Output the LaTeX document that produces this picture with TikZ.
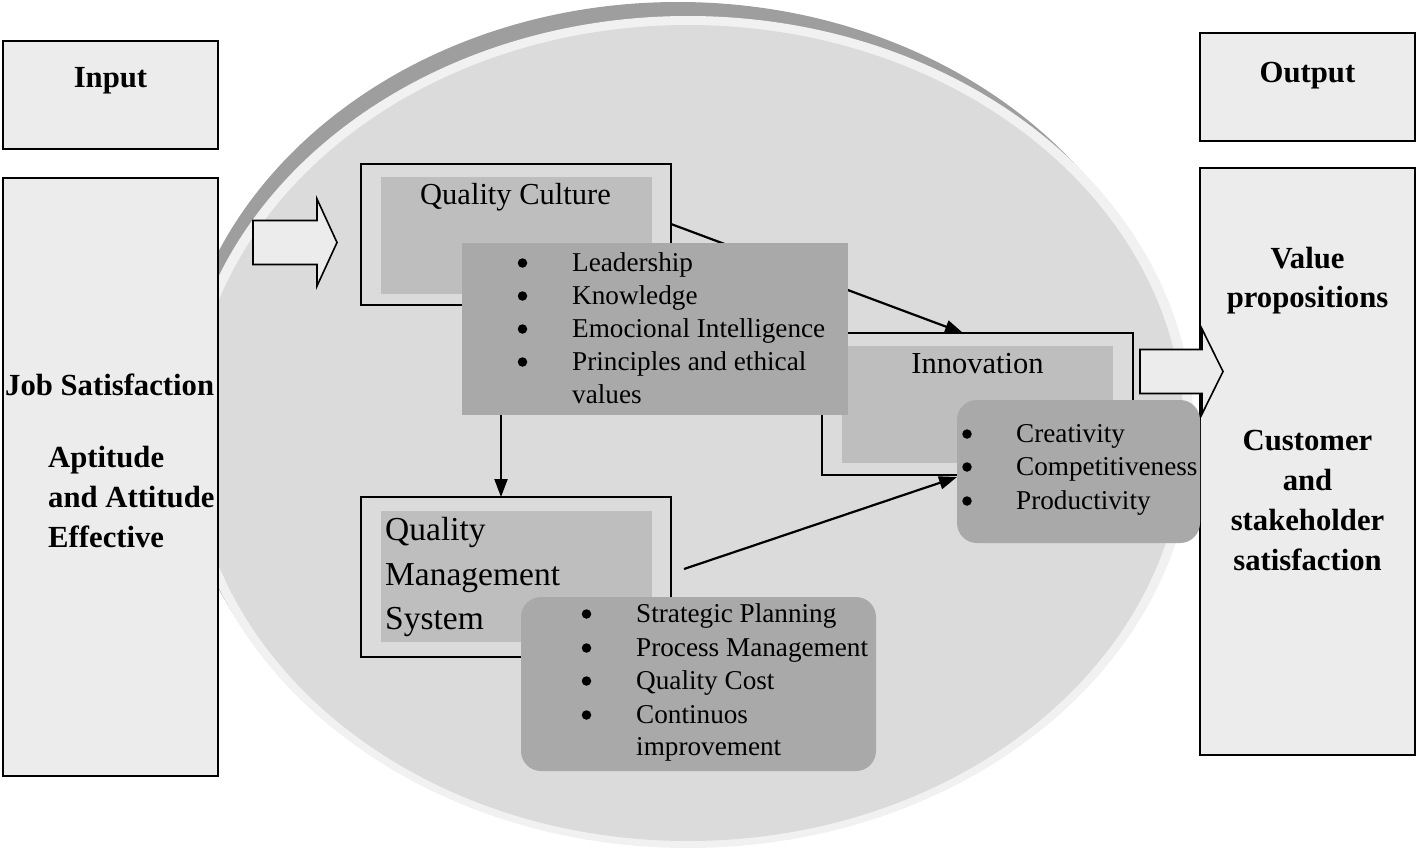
\documentclass[tikz,border=0pt]{standalone}
\usepackage{fontspec}
\setmainfont{Liberation Serif}
\usetikzlibrary{arrows.meta,calc}
\definecolor{rimdark}{HTML}{9E9E9E}
\definecolor{rimlight}{HTML}{F1F1F1}
\definecolor{ellfill}{HTML}{DBDBDB}
\definecolor{innerfill}{HTML}{BEBEBE}
\definecolor{listfill}{HTML}{A9A9A9}
\definecolor{iofill}{HTML}{ECECEC}
\begin{document}
\begin{tikzpicture}[x=1pt,y=-1pt,
  frame/.style={draw=black,line width=1.6pt,inner sep=0pt,outer sep=0pt},
  iobox/.style={frame,fill=iofill},
  outerbox/.style={frame,fill=ellfill},
  innerbox/.style={fill=innerfill,inner sep=0pt,outer sep=0pt},
  listbox/.style={fill=listfill,inner sep=0pt,outer sep=0pt},
  rlistbox/.style={listbox,rounded corners=20pt},
  bigarrow/.style={draw=black,line width=1.6pt,fill=iofill,line join=miter},
  conn/.style={draw=black,line width=2.2pt,-{Triangle[length=18pt,width=13pt]}},
  bl/.style={font=\fontsize{27.2}{31}\selectfont,anchor=base west,inner sep=0pt},
  bd/.style={circle,fill=black,inner sep=0pt,minimum size=9.5pt},
  bt/.style={font=\bfseries\fontsize{30.7}{35}\selectfont,inner sep=0pt},
  ttl/.style={inner sep=0pt,anchor=base,font=\fontsize{30.5}{35}\selectfont},
  qmst/.style={inner sep=0pt,anchor=base west,font=\fontsize{33.5}{38}\selectfont}]
\useasboundingbox (0,0) rectangle (1418,851);
% ellipse with bevel rims
\fill[rimdark] (678,420) ellipse [x radius=502pt, y radius=418pt];
\fill[rimlight] (688,432) ellipse [x radius=506pt, y radius=416pt];
\fill[ellfill] (688,433) ellipse [x radius=496pt, y radius=408pt];

% input / output boxes
\node[iobox,minimum width=215pt,minimum height=108pt] (input) at (110.5,95) {};
\node[bt,anchor=base] (inputt) at (110.5,88) {Input};
\node[iobox,minimum width=215pt,minimum height=598pt] (jobbox) at (110.5,477) {};
\node[bt,anchor=base west] (j1) at (5,395) {Job Satisfaction};
\node[bt,anchor=base west] (j2) at (48,467) {Aptitude};
\node[bt,anchor=base west] (j3) at (48,507) {and Attitude};
\node[bt,anchor=base west] (j4) at (48,547) {Effective};

\node[iobox,minimum width=215pt,minimum height=108pt] (output) at (1307.5,87) {};
\node[bt,anchor=base] (outputt) at (1307.5,82) {Output};
\node[iobox,minimum width=215pt,minimum height=587pt] (valbox) at (1307.5,461.5) {};
\node[bt,anchor=base] (v1) at (1307.5,268) {Value};
\node[bt,anchor=base] (v2) at (1307.5,307) {propositions};
\node[bt,anchor=base] (v3) at (1307.5,450) {Customer};
\node[bt,anchor=base] (v4) at (1307.5,490) {and};
\node[bt,anchor=base] (v5) at (1307.5,530) {stakeholder};
\node[bt,anchor=base] (v6) at (1307.5,570) {satisfaction};

% block arrows
\draw[bigarrow] (253,220.5) -- (317,220.5) -- (317,199) -- (337,242.5) -- (317,286) -- (317,264.5) -- (253,264.5) -- cycle;
\draw[bigarrow] (1140,349.5) -- (1202,349.5) -- (1202,329) -- (1223,371.5) -- (1202,414) -- (1202,393.5) -- (1140,393.5) -- cycle;

% Quality Culture
\node[outerbox,minimum width=310pt,minimum height=141pt] (qc) at (516,234.5) {};
\node[innerbox,minimum width=271pt,minimum height=117pt] (qcin) at (516.5,235.5) {};
\node[ttl] (qct) at (515.5,204) {Quality Culture};

% Innovation
\node[outerbox,minimum width=311pt,minimum height=142pt] (inn) at (977.5,404) {};
\node[innerbox,minimum width=271pt,minimum height=117pt] (innin) at (977.5,404.5) {};
\node[ttl] (innt) at (977.5,373) {Innovation};

% QMS
\node[outerbox,minimum width=310pt,minimum height=160pt] (qms) at (516,577) {};
\node[innerbox,minimum width=271pt,minimum height=131pt] (qmsin) at (516.5,576.5) {};
\node[qmst] (qm1) at (385,540) {Quality};
\node[qmst] (qm2) at (385,585) {Management};
\node[qmst] (qm3) at (385,629) {System};

% Innovation list box
\node[rlistbox,minimum width=243pt,minimum height=143pt] (innlist) at (1078.5,471.5) {};

% connectors
\draw[conn] ([yshift=10.5pt]qc.east) -- ([xshift=-14.5pt]inn.north);
\draw[conn] ([xshift=13pt,yshift=8pt]qms.east) -- ([yshift=-5.5pt]innlist.west);

% QC list
\node[listbox,minimum width=386pt,minimum height=172pt] (qclist) at (655,329) {};
\draw[conn] ([xshift=-154pt]qclist.south) -- ([xshift=-15pt]qms.north);
\foreach \i/\y in {1/271,2/304,3/337,4/370}{
  \node[bd] (qcb\i) at (522.5,\y-8) {};
}
\node[bl] (qcl1) at (572,271) {Leadership};
\node[bl] (qcl2) at (572,304) {Knowledge};
\node[bl] (qcl3) at (572,337) {Emocional Intelligence};
\node[bl] (qcl4) at (572,370) {Principles and ethical};
\node[bl] (qcl5) at (572,403) {values};

% Innovation list
\foreach \i/\y in {1/442,2/475,3/509}{
  \node[bd] (inb\i) at (967,\y-8) {};
}
\node[bl] (inl1) at (1016,442) {Creativity};
\node[bl] (inl2) at (1016,475) {Competitiveness};
\node[bl] (inl3) at (1016,509) {Productivity};

% QMS list
\node[rlistbox,minimum width=355pt,minimum height=174pt] (qmslist) at (698.5,684) {};
\foreach \i/\y in {1/622,2/656,3/689,4/723}{
  \node[bd] (qmb\i) at (586.5,\y-8) {};
}
\node[bl] (qml1) at (636,622) {Strategic Planning};
\node[bl] (qml2) at (636,656) {Process Management};
\node[bl] (qml3) at (636,689) {Quality Cost};
\node[bl] (qml4) at (636,723) {Continuos};
\node[bl] (qml5) at (636,755) {improvement};
\end{tikzpicture}
\end{document}
